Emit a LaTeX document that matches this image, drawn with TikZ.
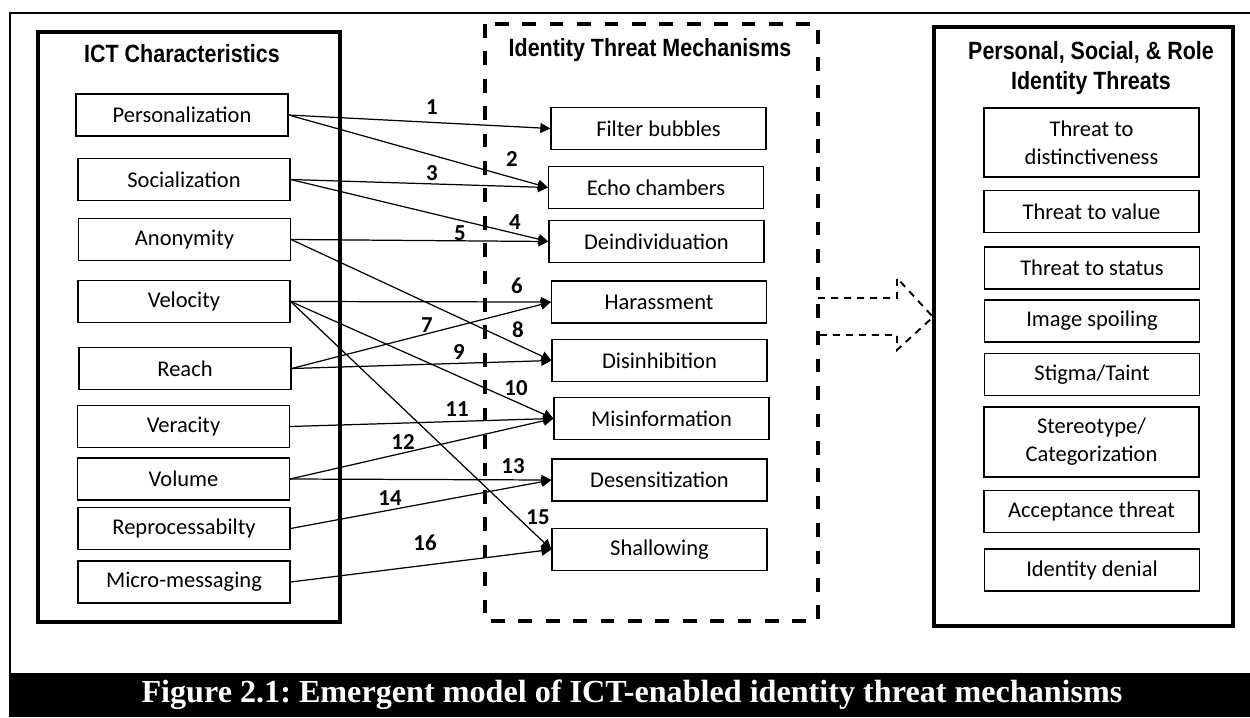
\documentclass[tikz,border=0pt]{standalone}
\usepackage{fontspec}
\setmainfont{Carlito}
\newfontfamily\headfont[FakeStretch=0.86]{Liberation Sans}
\newfontfamily\capfont{Liberation Serif}
\usetikzlibrary{arrows.meta}
\frenchspacing

\begin{document}
\begin{tikzpicture}[x=0.02cm, y=-0.02cm,
    item/.style={draw, line width=0.75pt, minimum width=4.24cm, minimum height=0.84cm,
      inner sep=0pt, align=center, font=\fontsize{12.8}{16}\selectfont},
    mech/.style={item, minimum width=4.3cm},
    thr/.style={item, minimum width=4.3cm},
    title/.style={align=center, font=\headfont\bfseries\fontsize{14.2}{17}\selectfont},
    num/.style={inner sep=0pt, font=\bfseries\fontsize{13}{15}\selectfont},
    link/.style={-{Triangle[length=5.7pt, width=5.7pt]}, line width=0.7pt},
    frame/.style={line width=2pt},
    dframe/.style={line width=2pt, dash pattern=on 7.8pt off 7.8pt},
    bigarrow/.style={line width=1.1pt, dash pattern=on 4pt off 3.4pt}]
  \useasboundingbox (0,0) rectangle (1250,717);

  % page frame and caption bar
  \draw[line width=1.7pt] (10,717) -- (10,13) -- (1250,13);
  \fill (10,673) rectangle (1250,717);
  \node[text=white, font=\capfont\bfseries\fontsize{18.3}{22}\selectfont] (cap) at (632,695)
    {Figure 2.1: Emergent model of ICT-enabled identity threat mechanisms};

  % the three groups
  \draw[frame]  ( 38,32) rectangle ( 340,622);
  \draw[dframe] (485,24) rectangle ( 818,621);
  \draw[frame]  (934,27) rectangle (1233,626);
  \node[title] (ictT)  at ( 182,54) {ICT Characteristics};
  \node[title] (mechT) at ( 650,50) {Identity Threat Mechanisms};
  \node[title] (thrT)  at (1091,68) {Personal, Social, \& Role\\Identity Threats};

  % ICT characteristics
  \node[item] (pers)  at (182.0,115.0) {Personalization};
  \node[item] (soc)   at (184.0,179.5) {Socialization};
  \node[item] (anon)  at (184.5,239.5) {Anonymity};
  \node[item] (vel)   at (184.0,301.5) {Velocity};
  \node[item] (reach) at (185.0,368.5) {Reach};
  \node[item] (ver)   at (183.5,426.5) {Veracity};
  \node[item] (vol)   at (183.5,479.0) {Volume};
  \node[item] (repr)  at (184.0,528.5) {Reprocessabilty};
  \node[item] (micro) at (184.0,582.0) {Micro-messaging};

  % mechanisms
  \node[mech] (filt) at (658.5,128.5) {Filter bubbles};
  \node[mech] (echo) at (656.0,187.5) {Echo chambers};
  \node[mech] (dein) at (656.5,241.5) {Deindividuation};
  \node[mech] (har)  at (659.0,302.0) {Harassment};
  \node[mech] (dis)  at (659.5,360.5) {Disinhibition};
  \node[mech] (mis)  at (661.5,418.5) {Misinformation};
  \node[mech] (des)  at (659.5,480.0) {Desensitization};
  \node[mech] (sha)  at (659.5,549.5) {Shallowing};

  % identity threats
  \node[thr, minimum height=1.38cm] (dist) at (1091.5,142.5) {Threat to\\distinctiveness};
  \node[thr] (val)   at (1091.5,211.5) {Threat to value};
  \node[thr] (stat)  at (1092.0,268.0) {Threat to status};
  \node[thr] (img)   at (1092.0,321.0) {Image spoiling};
  \node[thr] (stig)  at (1092.0,374.5) {Stigma/Taint};
  \node[thr, minimum height=1.4cm] (ster) at (1091.5,442.0) {Stereotype/\\Categorization};
  \node[thr] (acc)   at (1091.5,511.5) {Acceptance threat};
  \node[thr] (deny)  at (1092.0,570.0) {Identity denial};

  % links
  \draw[link] (pers.east)  -- (filt.west);
  \draw[link] (pers.east)  -- (echo.west);
  \draw[link] (soc.east)   -- (echo.west);
  \draw[link] (soc.east)   -- (dein.west);
  \draw[link] (anon.east)  -- (dein.west);
  \draw[link] (vel.east)   -- (har.west);
  \draw[link] (reach.east) -- (har.west);
  \draw[link] (anon.east)  -- (dis.west);
  \draw[link] (reach.east) -- (dis.west);
  \draw[link] (vel.east)   -- (mis.west);
  \draw[link] (ver.east)   -- (mis.west);
  \draw[link] (vol.east)   -- (mis.west);
  \draw[link] (vol.east)   -- (des.west);
  \draw[link] (repr.east)  -- (des.west);
  \draw[link] (vel.east)   -- (sha.west);
  \draw[link] (micro.east) -- (sha.west);

  % link numbers
  \node[num] (n1)  at (432,107) {1};
  \node[num] (n2)  at (512,159) {2};
  \node[num] (n3)  at (432,173) {3};
  \node[num] (n4)  at (515,222) {4};
  \node[num] (n5)  at (460,233) {5};
  \node[num] (n6)  at (517,286) {6};
  \node[num] (n7)  at (427,325) {7};
  \node[num] (n8)  at (518,330) {8};
  \node[num] (n9)  at (459,352) {9};
  \node[num] (n10) at (516,388) {10};
  \node[num] (n11) at (457,409) {11};
  \node[num] (n12) at (403,442) {12};
  \node[num] (n13) at (513,466) {13};
  \node[num] (n14) at (390,498) {14};
  \node[num] (n15) at (538,517) {15};
  \node[num] (n16) at (425,543) {16};

  % mechanisms lead to threats
  \draw[bigarrow] (818,298) -- (897,298) -- (897,278) -- (933,317)
    -- (897,350) -- (897,335) -- (818,335);
\end{tikzpicture}
\end{document}
